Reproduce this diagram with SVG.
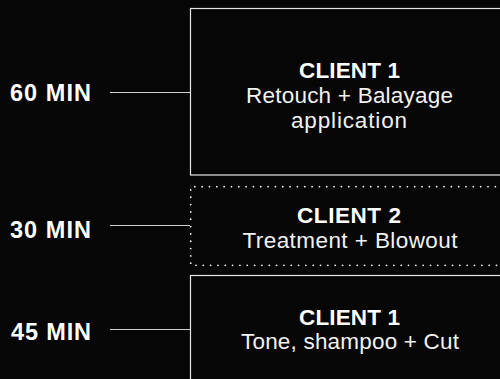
<svg xmlns="http://www.w3.org/2000/svg" width="500" height="379" viewBox="0 0 500 379">
<style>
.bg{fill:#060606}
.box{fill:none;stroke:#e6e6e6;stroke-width:1.2}
.dot{fill:none;stroke:#f0f0f0;stroke-width:1.8;stroke-linecap:round;stroke-dasharray:0 7.33}
.conn{stroke:#cfcfcf;stroke-width:1.2;fill:none}
.t{font-family:"Liberation Sans",Arial,sans-serif;fill:#ffffff}
.b{font-weight:bold;font-size:22.5px}
.r{font-size:22.5px;fill:#f2f2f2}
.m{font-weight:bold;font-size:23.5px;fill:#ffffff}
</style>
<rect class="bg" x="0" y="0" width="500" height="379"/>
<g id="connectors">
<line class="conn" x1="110" y1="92.5" x2="190" y2="92.5"/>
<line class="conn" x1="110" y1="225.5" x2="190" y2="225.5"/>
<line class="conn" x1="110" y1="329.5" x2="190" y2="329.5"/>
</g>
<g id="label-60">
<text class="t m" x="10" y="101" textLength="81" lengthAdjust="spacing">60 MIN</text>
</g>
<g id="label-30">
<text class="t m" x="10" y="238" textLength="81" lengthAdjust="spacing">30 MIN</text>
</g>
<g id="label-45">
<text class="t m" x="11" y="340" textLength="80" lengthAdjust="spacing">45 MIN</text>
</g>
<g id="node-client1-a">
<rect class="box" x="190.5" y="8.5" width="330" height="166.5"/>
<text class="t b" x="349.5" y="77.5" text-anchor="middle" textLength="101" lengthAdjust="spacing">CLIENT 1</text>
<text class="t r" x="349.5" y="102.5" text-anchor="middle" textLength="207" lengthAdjust="spacing">Retouch + Balayage</text>
<text class="t r" x="349" y="127.5" text-anchor="middle" textLength="116" lengthAdjust="spacing">application</text>
</g>
<g id="node-client2">
<path class="dot" d="M510,186.7 H190.7 V265.3 H510"/>
<text class="t b" x="349" y="223" text-anchor="middle" textLength="104" lengthAdjust="spacing">CLIENT 2</text>
<text class="t r" x="350" y="248" text-anchor="middle" textLength="215" lengthAdjust="spacing">Treatment + Blowout</text>
</g>
<g id="node-client1-b">
<rect class="box" x="190.5" y="275.5" width="330" height="120"/>
<text class="t b" x="349.5" y="324.5" text-anchor="middle" textLength="101" lengthAdjust="spacing">CLIENT 1</text>
<text class="t r" x="350" y="348.5" text-anchor="middle" textLength="218" lengthAdjust="spacing">Tone, shampoo + Cut</text>
</g>
</svg>
